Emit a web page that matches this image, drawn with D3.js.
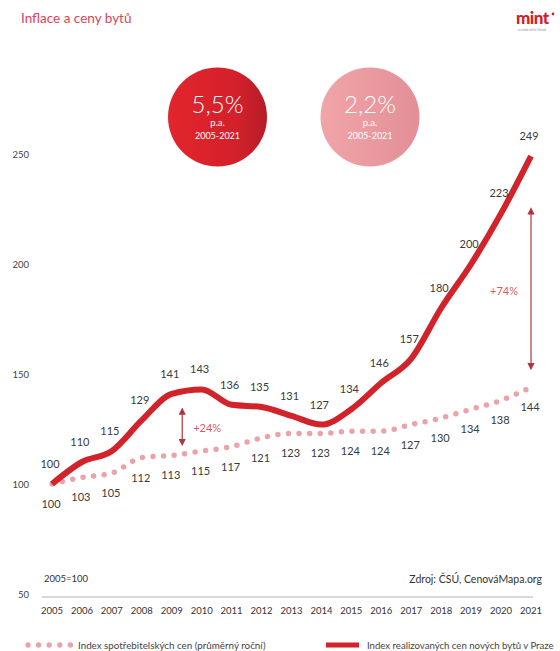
<!DOCTYPE html>
<html><head><meta charset="utf-8">
<script src="https://cdn.jsdelivr.net/npm/d3@7"></script>
<style>body{margin:0;background:#fff}svg{display:block}text{font-family:Lato,"Open Sans",sans-serif}</style>
</head><body>
<svg id="c" width="560" height="651"></svg>
<script>
const years = [2005,2006,2007,2008,2009,2010,2011,2012,2013,2014,2015,2016,2017,2018,2019,2020,2021];
const flatIndex = [100,110,115,129,141,143,136,135,131,127,134,146,157,180,200,223,249];
const cpiIndex = [100,103,105,112,113,115,117,121,123,123,124,124,127,130,134,138,144];
const yTicks = [50,100,150,200,250];
const arrowNotes = [
  {year:2009.35, from:134.5, to:117.5, label:"+24%"},
  {year:2021, from:225.5, to:152, label:"+74%"}
];
const badges = [
  {value:"5,5%", sub:"p.a.", period:"2005-2021", kind:"flat"},
  {value:"2,2%", sub:"p.a.", period:"2005-2021", kind:"cpi"}
];

const svg = d3.select("#c");
const x = d3.scaleLinear().domain([2005,2021]).range([52,531]);
const y = d3.scaleLinear().domain([50,250]).range([594,154]);

const RED = "#d2232a", PINK = "#eba3aa", TXT = "#3a3a3a";

// defs
const defs = svg.append("defs");
const g1 = defs.append("linearGradient").attr("id","gRed");
g1.append("stop").attr("offset","0%").attr("stop-color","#e3252c");
g1.append("stop").attr("offset","70%").attr("stop-color","#d3202a");
g1.append("stop").attr("offset","100%").attr("stop-color","#b51d28");
const g2 = defs.append("linearGradient").attr("id","gPink");
g2.append("stop").attr("offset","0%").attr("stop-color","#f1a5a8");
g2.append("stop").attr("offset","100%").attr("stop-color","#e28f97");
defs.append("marker").attr("id","arrA").attr("viewBox","0 0 10 10")
  .attr("refX",5).attr("refY",5).attr("markerWidth",6).attr("markerHeight",6).attr("orient","auto-start-reverse")
  .append("path").attr("d","M0,0 L10,5 L0,10 Z").attr("fill","#b23340");

// title
svg.append("text").attr("x",21).attr("y",23).attr("font-size",13.5).attr("fill","#d8435a").text("Inflace a ceny bytů");

// logo
svg.append("text").attr("x",516).attr("y",24).attr("font-size",17).attr("font-weight",900).attr("fill","#d1202b").attr("letter-spacing",-0.5).text("mint");
svg.append("circle").attr("cx",553).attr("cy",14).attr("r",1.4).attr("fill","#d1202b");
svg.append("text").attr("x",532).attr("y",31).attr("font-size",4.2).attr("fill","#999").attr("text-anchor","middle").text("rezidenční fond");

// badges
const bx = [217.5, 370];
badges.forEach((b,i)=>{
  const g = svg.append("g").attr("transform",`translate(${bx[i]},117)`);
  g.append("circle").attr("r",49.5).attr("fill", b.kind==="flat" ? "url(#gRed)" : "url(#gPink)");
  g.append("text").attr("y",-4).attr("text-anchor","middle").attr("font-size",24).attr("font-weight",300).attr("fill","#fff").text(b.value);
  g.append("text").attr("y",9).attr("text-anchor","middle").attr("font-size",9.5).attr("fill","#fff").text(b.sub);
  g.append("text").attr("y",22).attr("text-anchor","middle").attr("font-size",9).attr("fill","#fff").text(b.period);
});

// y tick labels
svg.append("g").selectAll("text").data(yTicks).join("text")
  .attr("x",29).attr("y",d=>y(d)+3.5).attr("text-anchor","end").attr("font-size",9.5).attr("fill","#444").text(d=>d);

// baseline axis
svg.append("line").attr("x1",42).attr("x2",533).attr("y1",y(50)+3).attr("y2",y(50)+3).attr("stroke","#b0b0b0").attr("stroke-width",1);
svg.append("g").selectAll("text").data(years).join("text")
  .attr("x",d=>x(d)).attr("y",614).attr("text-anchor","middle").attr("font-size",9.5).attr("fill","#333").text(d=>d);

svg.append("text").attr("x",44).attr("y",582).attr("font-size",9.5).attr("fill","#333").text("2005=100");
svg.append("text").attr("x",542).attr("y",583).attr("text-anchor","end").attr("font-size",10.5).attr("fill","#333").text("Zdroj: ČSÚ, CenováMapa.org");

// cpi dotted line
const line = d3.line().x((d,i)=>x(years[i])).y(d=>y(d)).curve(d3.curveMonotoneX);
svg.append("path").attr("d",line(cpiIndex)).attr("fill","none").attr("stroke",PINK)
  .attr("stroke-width",5.5).attr("stroke-linecap","round").attr("stroke-dasharray","0 10.6");

// flat line
svg.append("path").attr("d",line(flatIndex)).attr("fill","none").attr("stroke",RED)
  .attr("stroke-width",6).attr("stroke-linejoin","round");

// labels
svg.append("g").selectAll("text").data(flatIndex).join("text")
  .attr("x",(d,i)=>x(years[i])-2).attr("y",d=>y(d)-16).attr("text-anchor","middle")
  .attr("font-size",11).attr("fill",TXT).text(d=>d);
svg.append("g").selectAll("text").data(cpiIndex).join("text")
  .attr("x",(d,i)=>x(years[i])-1).attr("y",d=>y(d)+24).attr("text-anchor","middle")
  .attr("font-size",11).attr("fill",TXT).text(d=>d);

// arrows
arrowNotes.forEach((a,i)=>{
  svg.append("line").attr("x1",x(a.year)).attr("x2",x(a.year)).attr("y1",y(a.from)+3).attr("y2",y(a.to)-3)
    .attr("stroke","#b23340").attr("stroke-width",1.2)
    .attr("marker-start","url(#arrA)").attr("marker-end","url(#arrA)");
  const mid = (y(a.from)+y(a.to))/2;
  if(i===0){
    svg.append("text").attr("x",x(a.year)+11).attr("y",mid+5).attr("font-size",11).attr("fill","#d85a67").text(a.label);
  } else {
    svg.append("text").attr("x",x(a.year)-13).attr("y",mid+6).attr("text-anchor","end").attr("font-size",11).attr("fill","#d85a67").text(a.label);
  }
});

// legend
const ly = 645;
svg.append("g").selectAll("circle").data(d3.range(5)).join("circle")
  .attr("cx",d=>28+d*10.6).attr("cy",ly).attr("r",2.7).attr("fill",PINK);
svg.append("text").attr("x",78).attr("y",ly+3.5).attr("font-size",9.8).attr("fill","#444").text("Index spotřebitelských cen (průměrný roční)");
svg.append("rect").attr("x",326).attr("y",ly-2.5).attr("width",33).attr("height",5).attr("fill",RED);
svg.append("text").attr("x",367).attr("y",ly+3.5).attr("font-size",9.6).attr("fill","#444").text("Index realizovaných cen nových bytů v Praze");
</script>
</body></html>
